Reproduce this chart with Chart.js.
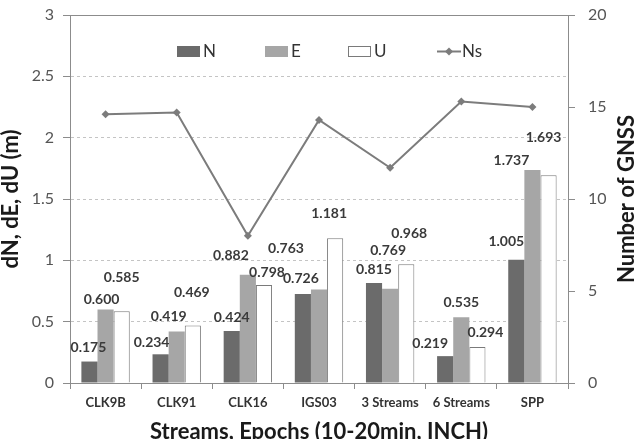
<!DOCTYPE html>
<html><head><meta charset="utf-8">
<script src="https://cdn.jsdelivr.net/npm/chart.js@4/dist/chart.umd.min.js"></script>
<style>html,body{margin:0;padding:0;background:#fff}#wrap{width:641px;height:439px;position:relative}</style>
</head><body><div id="wrap"><canvas id="c" width="641" height="439"></canvas></div>
<script>
// ---- data ----
const categories = ['CLK9B', 'CLK91', 'CLK16', 'IGS03', '3 Streams', '6 Streams', 'SPP'];
const dN = [0.175, 0.234, 0.424, 0.726, 0.815, 0.219, 1.005];
const dE = [0.600, 0.419, 0.882, 0.763, 0.769, 0.535, 1.737];
const dU = [0.585, 0.469, 0.798, 1.181, 0.968, 0.294, 1.693];
const ns = [14.6, 14.7, 8.0, 14.3, 11.7, 15.3, 15.0];
const leftTicks = [0, 0.5, 1, 1.5, 2, 2.5, 3];
const rightTicks = [0, 5, 10, 15, 20];
const seriesNames = ['N', 'E', 'U', 'Ns'];
const leftAxisTitle = 'dN, dE, dU (m)';
const rightAxisTitle = 'Number of GNSS';
const xAxisTitle = 'Streams, Epochs (10-20min, INCH)';

// ---- style: label shifts (dx, height above bar top) as placed in the original ----
const labelShift = [
  [[-1,14],[-9,12],[0,14],[-2,15],[0,14],[-15,13],[-10,18]],
  [[-4,10],[-8,15],[-17,19],[-33,41],[-2,38],[0,15],[-21,9]],
  [[0,34],[-1,33],[3,13],[-6,25],[3,31],[8,14],[-5,38]]
];
const FONT = 'Lato, "Open Sans", sans-serif';
const colN = '#6b6b6b', colE = '#a6a6a6', colU = '#ffffff', colUBorder = '#7a7a7a', colNs = '#7c7c7c';
const axisCol = '#8c8c8c';

const extras = {
  id: 'extras',
  beforeDatasetsDraw(chart) {
    const ctx = chart.ctx, a = chart.chartArea;
    ctx.save();
    ctx.strokeStyle = axisCol; ctx.lineWidth = 1;
    ctx.beginPath(); ctx.moveTo(a.left, Math.round(a.top) + 0.5); ctx.lineTo(a.right, Math.round(a.top) + 0.5); ctx.stroke();
    ctx.restore();
  },
  afterDatasetsDraw(chart) {
    const ctx = chart.ctx;
    ctx.save();
    // data labels
    ctx.font = 'bold 14px ' + FONT;
    ctx.fillStyle = '#3a3a3a';
    ctx.textAlign = 'center';
    ctx.textBaseline = 'middle';
    for (let d = 0; d < 3; d++) {
      const meta = chart.getDatasetMeta(d);
      const vals = chart.data.datasets[d].data;
      meta.data.forEach((el, i) => {
        const s = labelShift[d][i];
        ctx.fillText(vals[i].toFixed(3), el.x + s[0], el.y - s[1]);
      });
    }
    // legend
    const a = chart.chartArea;
    const ly = a.top + 36;
    ctx.font = '17px ' + FONT;
    ctx.textAlign = 'left';
    const boxes = [[107, colN, null], [195, colE, null], [278, colU, colUBorder]];
    boxes.forEach((b, k) => {
      const x = a.left + b[0];
      ctx.fillStyle = b[1];
      ctx.fillRect(x, ly - 5, 23, 11);
      if (b[2]) { ctx.strokeStyle = b[2]; ctx.lineWidth = 1; ctx.strokeRect(x + 0.5, ly - 4.5, 22, 10); }
      ctx.fillStyle = '#333';
      ctx.fillText(seriesNames[k], x + 26, ly + 1);
    });
    const lx = a.left + 367;
    ctx.strokeStyle = colNs; ctx.lineWidth = 2;
    ctx.beginPath(); ctx.moveTo(lx, ly + 0.5); ctx.lineTo(lx + 24, ly + 0.5); ctx.stroke();
    ctx.fillStyle = colNs;
    ctx.beginPath(); ctx.moveTo(lx + 12, ly - 3.5); ctx.lineTo(lx + 16, ly + 0.5); ctx.lineTo(lx + 12, ly + 4.5); ctx.lineTo(lx + 8, ly + 0.5); ctx.closePath(); ctx.fill();
    ctx.fillStyle = '#333';
    ctx.fillText(seriesNames[3], lx + 25, ly + 1);
    // right axis title (reads bottom to top)
    ctx.save();
    ctx.translate(627, (a.top + a.bottom) / 2);
    ctx.rotate(-Math.PI / 2);
    ctx.font = 'bold 22px ' + FONT;
    ctx.textAlign = 'center';
    ctx.fillStyle = '#1a1a1a';
    ctx.fillText(rightAxisTitle, 0, 0);
    ctx.restore();
    ctx.restore();
  }
};

new Chart(document.getElementById('c'), {
  type: 'bar',
  data: {
    labels: categories,
    datasets: [
      { label: seriesNames[0], data: dN, backgroundColor: colN, borderWidth: 0, yAxisID: 'y', order: 1 },
      { label: seriesNames[1], data: dE, backgroundColor: colE, borderWidth: 0, yAxisID: 'y', order: 1 },
      { label: seriesNames[2], data: dU, backgroundColor: colU, borderColor: colUBorder, borderWidth: 1, yAxisID: 'y', order: 1 },
      { type: 'line', label: seriesNames[3], data: ns, borderColor: colNs, backgroundColor: colNs, borderWidth: 2,
        pointStyle: 'rectRot', pointRadius: 4, pointBackgroundColor: colNs, pointBorderWidth: 0, yAxisID: 'y2', order: 0, tension: 0 }
    ]
  },
  options: {
    responsive: false,
    animation: false,
    layout: { padding: { top: 15, left: 0, right: 0, bottom: 0 } },
    datasets: { bar: { categoryPercentage: 0.68, barPercentage: 1 } },
    plugins: { legend: { display: false }, tooltip: { enabled: false } },
    scales: {
      x: {
        afterFit: s => { s.height = 56; s.paddingLeft = 0; s.paddingRight = 0; },
        grid: { display: true, drawOnChartArea: false, drawTicks: true, tickLength: 6, tickColor: axisCol, offset: true },
        border: { display: true, color: axisCol },
        ticks: { color: '#333', font: { family: FONT, size: 13, weight: 'bold' }, padding: 6, maxRotation: 0, autoSkip: false },
        title: { display: true, text: xAxisTitle, color: '#1a1a1a', font: { family: FONT, size: 22, weight: 'bold', lineHeight: 0.64 }, padding: { top: 0, bottom: 0 } }
      },
      y: {
        position: 'left', min: 0, max: 3,
        afterFit: s => { s.width = 70; s.paddingTop = 0; s.paddingBottom = 0; },
        afterBuildTicks: s => { s.ticks = leftTicks.map(v => ({ value: v })); },
        grid: {
          color: c => (c.tick && (c.tick.value === 0 || c.tick.value === 3)) ? 'rgba(0,0,0,0)' : '#c4c4c4',
          lineWidth: 1, drawTicks: true, tickLength: 7, tickColor: axisCol
        },
        border: { display: true, color: axisCol, dash: [3, 3] },
        ticks: { color: '#555', font: { family: FONT, size: 16 }, padding: 9, callback: v => String(v) },
        title: { display: true, text: leftAxisTitle, color: '#1a1a1a', font: { family: FONT, size: 22, weight: 'bold', lineHeight: 1.0 }, padding: { top: 0, bottom: 0 } }
      },
      y2: {
        position: 'right', min: 0, max: 20,
        afterFit: s => { s.width = 73; s.paddingTop = 0; s.paddingBottom = 0; },
        afterBuildTicks: s => { s.ticks = rightTicks.map(v => ({ value: v })); },
        grid: { drawOnChartArea: false, drawTicks: true, tickLength: 7, tickColor: axisCol },
        border: { display: true, color: axisCol },
        ticks: { color: '#555', font: { family: FONT, size: 16 }, padding: 13, callback: v => String(v) }
      }
    }
  },
  plugins: [extras]
});
</script>
</body></html>
